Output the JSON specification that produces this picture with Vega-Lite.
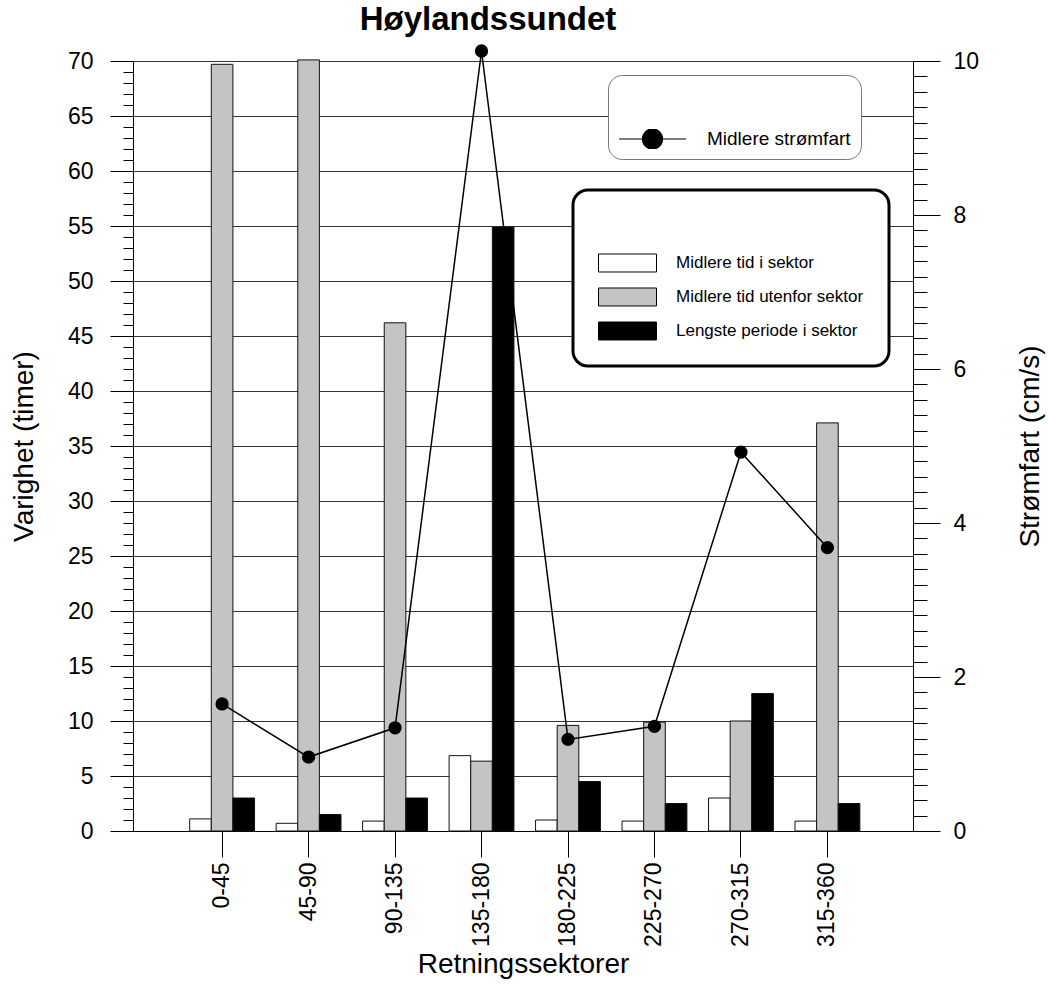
{
  "$schema": "https://vega.github.io/schema/vega-lite/v6.json",
  "width": 780,
  "height": 770,
  "autosize": {"type": "none"},
  "padding": {"left": 133, "top": 61, "right": 135, "bottom": 160},
  "background": "white",
  "title": {"text": "Høylandssundet", "font": "Liberation Sans", "fontSize": 33, "fontWeight": "bold", "anchor": "middle", "frame": "group", "dx": -35, "dy": 30, "offset": 11, "baseline": "alphabetic", "color": "black"},
  "config": {
    "view": {"stroke": null},
    "axis": {"labelFont": "Liberation Sans", "titleFont": "Liberation Sans", "labelColor": "black", "titleColor": "black", "domainColor": "black", "tickColor": "black", "titleFontWeight": "normal", "labelOverlap": false, "labelFlush": false},
    "legend": {"labelFont": "Liberation Sans", "titleFont": "Liberation Sans", "labelColor": "black"}
  },
  "datasets": {
    "bars": [
      {"sector": "0-45", "series": "Midlere tid i sektor", "hours": 1.1},
      {"sector": "0-45", "series": "Midlere tid utenfor sektor", "hours": 69.7},
      {"sector": "0-45", "series": "Lengste periode i sektor", "hours": 3.0},
      {"sector": "45-90", "series": "Midlere tid i sektor", "hours": 0.7},
      {"sector": "45-90", "series": "Midlere tid utenfor sektor", "hours": 70.1},
      {"sector": "45-90", "series": "Lengste periode i sektor", "hours": 1.5},
      {"sector": "90-135", "series": "Midlere tid i sektor", "hours": 0.9},
      {"sector": "90-135", "series": "Midlere tid utenfor sektor", "hours": 46.2},
      {"sector": "90-135", "series": "Lengste periode i sektor", "hours": 3.0},
      {"sector": "135-180", "series": "Midlere tid i sektor", "hours": 6.85},
      {"sector": "135-180", "series": "Midlere tid utenfor sektor", "hours": 6.35},
      {"sector": "135-180", "series": "Lengste periode i sektor", "hours": 54.9},
      {"sector": "180-225", "series": "Midlere tid i sektor", "hours": 1.0},
      {"sector": "180-225", "series": "Midlere tid utenfor sektor", "hours": 9.6},
      {"sector": "180-225", "series": "Lengste periode i sektor", "hours": 4.5},
      {"sector": "225-270", "series": "Midlere tid i sektor", "hours": 0.9},
      {"sector": "225-270", "series": "Midlere tid utenfor sektor", "hours": 9.9},
      {"sector": "225-270", "series": "Lengste periode i sektor", "hours": 2.5},
      {"sector": "270-315", "series": "Midlere tid i sektor", "hours": 3.0},
      {"sector": "270-315", "series": "Midlere tid utenfor sektor", "hours": 10.0},
      {"sector": "270-315", "series": "Lengste periode i sektor", "hours": 12.5},
      {"sector": "315-360", "series": "Midlere tid i sektor", "hours": 0.9},
      {"sector": "315-360", "series": "Midlere tid utenfor sektor", "hours": 37.1},
      {"sector": "315-360", "series": "Lengste periode i sektor", "hours": 2.5}
    ],
    "speed": [
      {"sector": "0-45", "speed": 1.65},
      {"sector": "45-90", "speed": 0.96},
      {"sector": "90-135", "speed": 1.34},
      {"sector": "135-180", "speed": 10.13},
      {"sector": "180-225", "speed": 1.19},
      {"sector": "225-270", "speed": 1.36},
      {"sector": "270-315", "speed": 4.92},
      {"sector": "315-360", "speed": 3.68}
    ]
  },
  "encoding": {
    "x": {
      "field": "sector", "type": "nominal",
      "sort": ["0-45", "45-90", "90-135", "135-180", "180-225", "225-270", "270-315", "315-360"],
      "scale": {"type": "band", "paddingInner": 0, "paddingOuter": 0.51, "align": 0.52},
      "axis": {"title": "Retningssektorer", "titleFontSize": 28, "titlePadding": 4, "labelAngle": -90, "labelFontSize": 23, "labelPadding": 5, "tickSize": 26, "domainWidth": 1, "tickWidth": 1}
    }
  },
  "layer": [
    {
      "data": {"name": "bars"},
      "mark": {"type": "bar", "stroke": "#111", "strokeWidth": 1},
      "encoding": {
        "xOffset": {"field": "series", "type": "nominal", "scale": {"domain": ["Midlere tid i sektor", "Midlere tid utenfor sektor", "Lengste periode i sektor"], "paddingInner": 0, "paddingOuter": 0.5}},
        "y": {
          "field": "hours", "type": "quantitative",
          "scale": {"domain": [0, 70], "nice": false, "zero": true},
          "axis": {
            "orient": "left",
            "title": "Varighet (timer)", "titleFontSize": 28, "titlePadding": 29,
            "values": [0,1,2,3,4,5,6,7,8,9,10,11,12,13,14,15,16,17,18,19,20,21,22,23,24,25,26,27,28,29,30,31,32,33,34,35,36,37,38,39,40,41,42,43,44,45,46,47,48,49,50,51,52,53,54,55,56,57,58,59,60,61,62,63,64,65,66,67,68,69,70],
            "labelExpr": "datum.value % 5 === 0 ? datum.label : ''",
            "labelFontSize": 23, "labelPadding": 17,
            "tickSize": {"condition": {"test": "datum.value % 5 === 0", "value": 23}, "value": 10},
            "grid": true,
            "gridColor": "#333",
            "gridWidth": 1,
            "gridOpacity": {"condition": {"test": "datum.value % 5 === 0", "value": 1}, "value": 0}
          }
        },
        "fill": {
          "field": "series", "type": "nominal",
          "scale": {"domain": ["Midlere tid i sektor", "Midlere tid utenfor sektor", "Lengste periode i sektor"], "range": ["white", "#c4c4c4", "black"]},
          "legend": {
            "orient": "none", "legendX": 440, "legendY": 129,
            "title": " ", "titleFontSize": 17, "titlePadding": 21,
            "padding": 25, "cornerRadius": 15, "strokeColor": "black", "fillColor": "white",
            "symbolType": "M-1,-0.31H1V0.31H-1Z", "symbolSize": 3364, "symbolStrokeColor": "black", "symbolStrokeWidth": 1, "symbolOpacity": 1,
            "clipHeight": 20, "rowPadding": 14, "labelOffset": 19, "labelFontSize": 17, "labelLimit": 400,
            "encode": {"legend": {"update": {"strokeWidth": {"value": 3}}}}
          }
        }
      }
    },
    {
      "data": {"name": "speed"},
      "encoding": {
        "y": {
          "field": "speed", "type": "quantitative",
          "scale": {"domain": [0, 10], "nice": false, "zero": true},
          "axis": {
            "orient": "right",
            "title": "Strømfart (cm/s)", "titleFontSize": 28, "titlePadding": 38, "titleAngle": 270, "titleBaseline": "top",
            "values": [0,0.2,0.4,0.6,0.8,1,1.2,1.4,1.6,1.8,2,2.2,2.4,2.6,2.8,3,3.2,3.4,3.6,3.8,4,4.2,4.4,4.6,4.8,5,5.2,5.4,5.6,5.8,6,6.2,6.4,6.6,6.8,7,7.2,7.4,7.6,7.8,8,8.2,8.4,8.6,8.8,9,9.2,9.4,9.6,9.8,10],
            "labelExpr": "abs(datum.value / 2 - round(datum.value / 2)) < 0.01 ? format(datum.value, 'd') : ''",
            "labelFontSize": 23, "labelPadding": 13,
            "tickSize": {"condition": {"test": "abs(datum.value / 2 - round(datum.value / 2)) < 0.01", "value": 27}, "value": 14},
            "grid": false
          }
        }
      },
      "layer": [
        {"mark": {"type": "line", "color": "black", "strokeWidth": 1.5}},
        {
          "mark": {"type": "point", "filled": true, "size": 177, "opacity": 1},
          "encoding": {
            "color": {
              "datum": "Midlere strømfart",
              "scale": {"range": ["black"]},
              "legend": {
                "orient": "none", "legendX": 475, "legendY": 14,
                "title": " ", "titleFontSize": 19, "titlePadding": 25,
                "padding": 10, "cornerRadius": 14, "strokeColor": "#777", "fillColor": "white",
                "symbolType": "M-1,0H1M-0.3,0C-0.3,-0.1657,-0.1657,-0.3,0,-0.3C0.1657,-0.3,0.3,-0.1657,0.3,0C0.3,0.1657,0.1657,0.3,0,0.3C-0.1657,0.3,-0.3,0.1657,-0.3,0Z", "symbolSize": 4489, "symbolStrokeColor": "black", "symbolStrokeWidth": 1.2, "symbolOpacity": 1,
                "clipHeight": 20, "labelOffset": 20, "labelFontSize": 19, "labelLimit": 400
              }
            }
          }
        }
      ]
    }
  ],
  "resolve": {"scale": {"y": "independent"}}
}
